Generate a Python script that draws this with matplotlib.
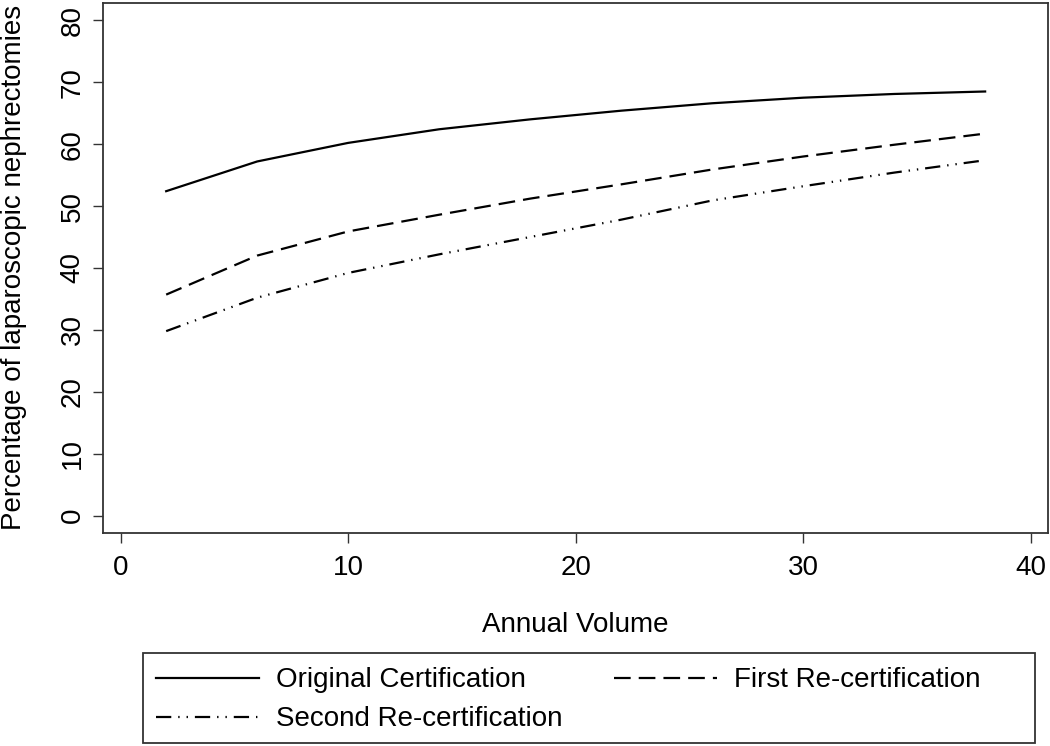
import matplotlib
matplotlib.use("Agg")
import matplotlib.pyplot as plt
from matplotlib.patches import Rectangle

# ---- data ----
annual_volume = [2, 6, 10, 14, 18, 22, 26, 30, 34, 38]
original_cert = [52.4, 57.2, 60.2, 62.4, 64.0, 65.4, 66.6, 67.5, 68.1, 68.5]
first_recert = [35.7, 42.0, 45.9, 48.6, 51.2, 53.5, 55.9, 58.0, 59.9, 61.7]
second_recert = [29.8, 35.2, 39.2, 42.2, 45.0, 47.8, 50.9, 53.2, 55.4, 57.4]
series_labels = ["Original Certification", "First Re-certification", "Second Re-certification"]
x_ticks = [0, 10, 20, 30, 40]
y_ticks = [0, 10, 20, 30, 40, 50, 60, 70, 80]

plt.rcParams['font.family'] = ['Liberation Sans', 'DejaVu Sans']
plt.rcParams['lines.scale_dashes'] = False

W, H = 1050, 746
fig = plt.figure(figsize=(W / 100, H / 100), dpi=100)
L, R, T, B = 102.7, 1047.7, 2.7, 533.0
ax = fig.add_axes([L / W, 1 - B / H, (R - L) / W, (B - T) / H])

FS = 20
lw = 1.6
l1, = ax.plot(annual_volume, original_cert, color='black', lw=lw, linestyle='-')
l2, = ax.plot(annual_volume, first_recert, color='black', lw=lw, linestyle=(0, (12, 5.8)))
l3, = ax.plot(annual_volume, second_recert, color='black', lw=lw,
              linestyle=(0, (11, 5, 1, 5, 1, 5)))

ax.set_xlim(-0.79, 40.75)
ax.set_ylim(-2.8, 82.84)
ax.set_xticks(x_ticks)
ax.set_yticks(y_ticks)
for s in ax.spines.values():
    s.set_linewidth(1.3)
    s.set_color('#333333')
ax.tick_params(axis='both', direction='out', length=7.5, width=1.0, color='#333333',
               labelsize=FS, pad=8)
plt.setp(ax.get_yticklabels(), rotation=90, va='center', ha='center')
ax.tick_params(axis='y', pad=14)

ax.set_xlabel("Annual Volume", fontsize=FS, labelpad=23)
ax.set_ylabel("Percentage of laparoscopic nephrectomies", fontsize=FS, labelpad=24)

# legend: row 1 = Original, First; row 2 = Second (matplotlib fills by column)
leg = fig.legend([l1, l3, l2], [series_labels[0], series_labels[2], series_labels[1]],
                 ncol=2, loc='upper left',
                 bbox_to_anchor=(137 / W, 1 - 648 / H),
                 frameon=False, fontsize=FS, handlelength=3.7, handletextpad=0.6,
                 columnspacing=1.87, labelspacing=0.47, borderpad=0.2)
fig.patches.append(Rectangle((142.7 / W, 1 - 743.3 / H), (1035 - 142.7) / W, (743.3 - 652.7) / H,
                             transform=fig.transFigure, fill=False, edgecolor='#333333', lw=1.3))

fig.savefig("out.png", dpi=100)
